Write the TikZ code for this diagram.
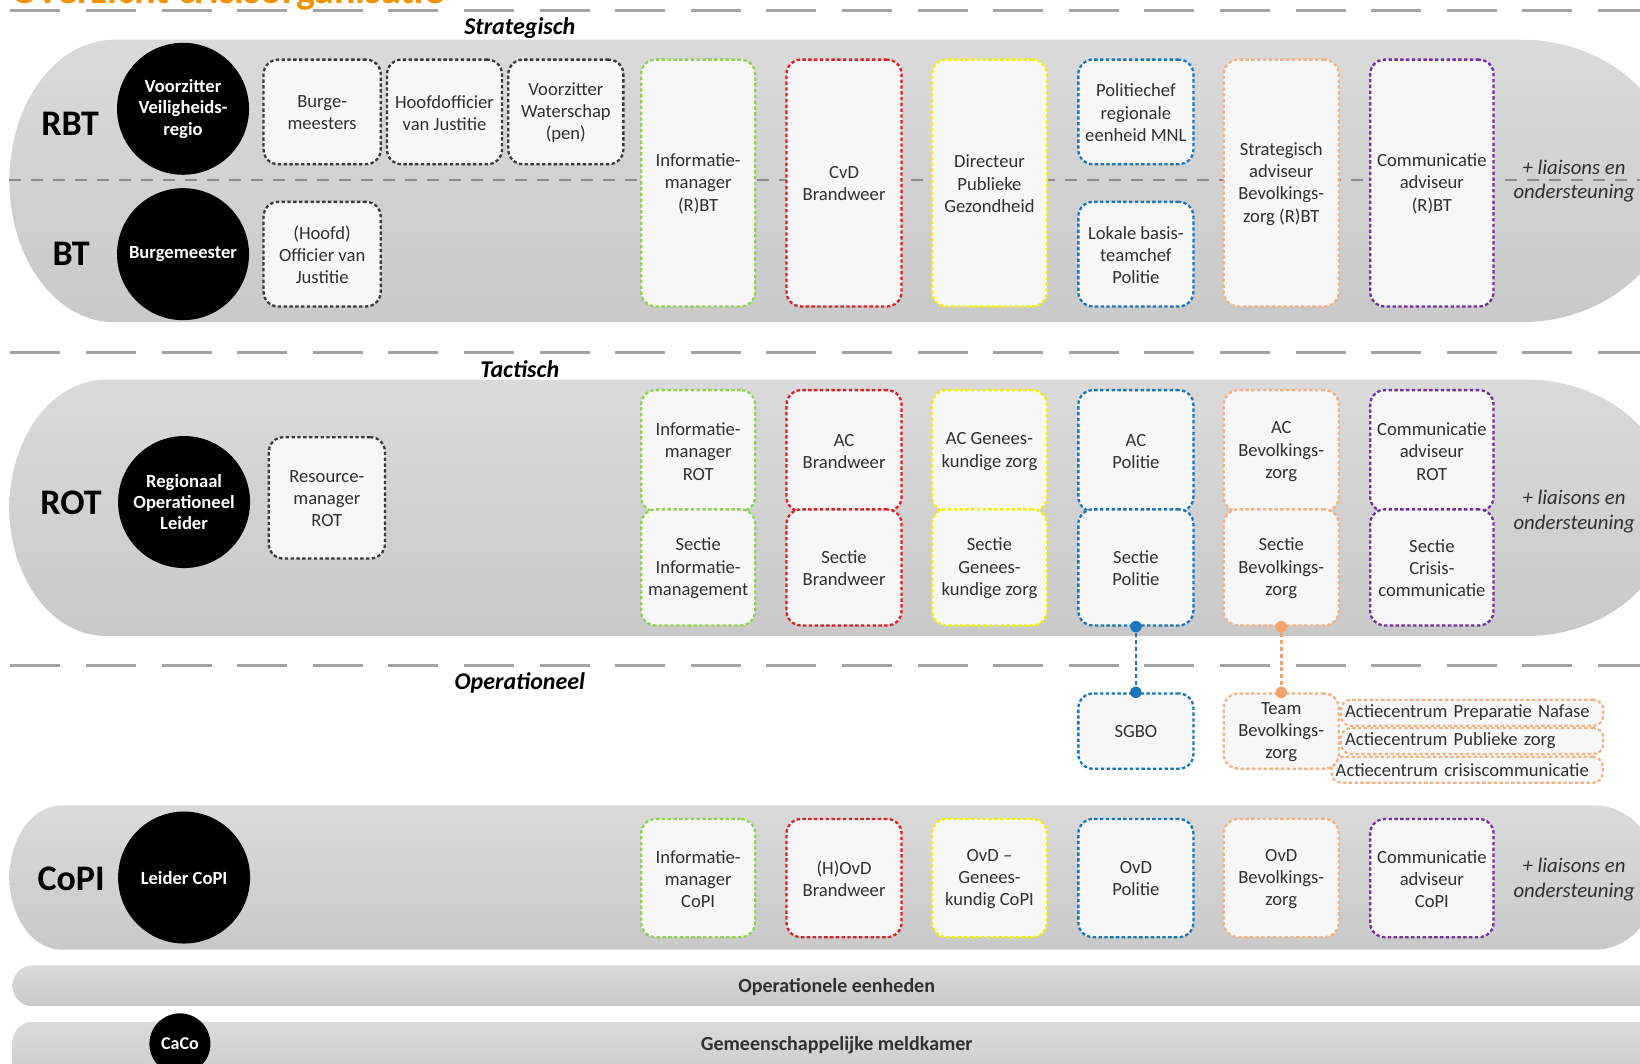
\documentclass[tikz,border=0pt]{standalone}
\usepackage{fontspec}
\setmainfont{Carlito}
\usetikzlibrary{fit}
\definecolor{bandtop}{HTML}{DADADA}
\definecolor{bandbot}{HTML}{C9C9C9}
\definecolor{sepgray}{HTML}{A3A3A3}
\definecolor{midgray}{HTML}{8A8A8A}
\definecolor{boxfill}{HTML}{F7F7F7}
\definecolor{txtgray}{HTML}{303030}
\definecolor{cgreen}{HTML}{92D050}
\definecolor{cred}{HTML}{DF1F26}
\definecolor{cyellow}{HTML}{F2F200}
\definecolor{cblue}{HTML}{1C75BC}
\definecolor{corange}{HTML}{F4B183}
\definecolor{cdot}{HTML}{F2A46A}
\definecolor{cpurple}{HTML}{7030A0}
\definecolor{cdark}{HTML}{3A3A3A}
\definecolor{titleorange}{HTML}{F39200}
\newcommand\boxfont{\fontsize{9.3}{11.1}\selectfont}
\newcommand\crisisband[6]{%
  \pgfmathsetmacro\bandry{(#2-#1)/2}%
  \path[bandfill] (#3+#4,#1) -- (#5,#1)
    arc[start angle=-90,end angle=90,x radius=#6,y radius=\bandry]
    -- (#3+#4,#2)
    arc[start angle=90,end angle=270,x radius=#4,y radius=\bandry] -- cycle;}
\newcommand\bx[7]{\node[rbox=#2, fit={(#3,#4)(#5,#6)}] (#1) {};
  \node[boxtext] (#1t) at ([yshift=-0.4pt]#1.center) {#7};}
\begin{document}
\begin{tikzpicture}[x=0.52296pt,y=-0.52296pt,
  bandfill/.style={top color=bandtop, bottom color=bandbot, draw=none},
  sepline/.style={draw=sepgray, line width=1.4pt, dash pattern=on 25pt off 12.8pt},
  midline/.style={draw=midgray, line width=0.9pt, dash pattern=on 6pt off 5pt},
  rbox/.style={draw=#1, rounded corners=7.3pt, fill=boxfill, line width=1.15pt,
    dash pattern=on 1.7pt off 1.2pt, inner sep=0pt},
  boxtext/.style={align=center, font=\boxfont, text=txtgray, inner sep=0pt},
  acbox/.style={draw=corange, rounded corners=5pt, fill=boxfill, line width=1.1pt,
    dash pattern=on 1.7pt off 1.2pt, inner ysep=0pt, inner xsep=2.1pt, align=left,
    font=\boxfont, text=txtgray, anchor=west, minimum height=13pt},
  blackcirc/.style={circle, fill=black, text=white, minimum size=66pt, inner sep=0pt,
    align=center, font=\fontsize{9.3}{10.7}\selectfont\bfseries},
  lvl/.style={font=\fontsize{18}{20}\selectfont\bfseries, text=black, inner sep=0pt},
  lvltitle/.style={font=\fontsize{12}{14}\selectfont\bfseries\itshape, text=black},
  liaison/.style={font=\fontsize{10.4}{12.2}\selectfont\itshape, align=center, text=txtgray},
  conn/.style={line width=1.3pt, dash pattern=on 2pt off 1.4pt},
  bartext/.style={font=\fontsize{10}{12}\selectfont\bfseries, text=txtgray}
]
\useasboundingbox (0,0) rectangle (1568,1017);
\clip (0,0) rectangle (1568,1017);

% bands
\crisisband{38}{308}{9}{100}{1455}{150}
\crisisband{363}{608}{9}{92}{1460}{140}
\crisisband{770}{908}{9}{50}{1525}{60}
\path[bandfill, rounded corners=10pt] (12,923) rectangle (1620,962);
\path[bandfill, rounded corners=10pt] (12,977) rectangle (1620,1045);

% title (cut off at the top, as in the original)
\node[anchor=base west, font=\fontsize{20}{22}\selectfont\bfseries, text=titleorange, inner sep=0pt]
  (title) at (11,3.5) {Overzicht crisisorganisatie};

% separators
\draw[sepline] (10,10) -- (1568,10);
\draw[sepline] (10,337) -- (1568,337);
\draw[sepline] (10,636) -- (1568,636);
\draw[midline] (9,172) -- (1568,172);

% level titles
\node[lvltitle] (strat) at (497,27) {Strategisch};
\node[lvltitle] (tact) at (497,353) {Tactisch};
\node[lvltitle] (oper) at (497,653) {Operationeel};

% level labels
\node[lvl] (lrbt) at (67,118) {RBT};
\node[lvl] (lbt) at (68,243) {BT};
\node[lvl] (lrot) at (68,481) {ROT};
\node[lvl] (lcopi) at (68,840) {CoPI};

% black circles
\node[blackcirc] (vvr) at (175,104) {Voorzitter\\Veiligheids-\\regio};
\node[blackcirc] (bgm) at (175,243) {Burgemeester};
\node[blackcirc] (rol) at (176,480) {Regionaal\\Operationeel\\Leider};
\node[blackcirc] (lcp) at (176,839) {Leider CoPI};
\node[blackcirc, minimum size=30.5pt, font=\fontsize{9}{10}\selectfont\bfseries] (caco) at (172,998) {CaCo};

% RBT / BT boxes
\bx{burg}{cdark}{252}{57}{364}{157}{Burge-\\meesters}
\bx{hovj}{cdark}{370}{57}{480}{157}{Hoofdofficier\\van Justitie}
\bx{vws}{cdark}{486}{57}{596}{157}{Voorzitter\\Waterschap\\(pen)}
\bx{ovj}{cdark}{252}{193}{364}{293}{(Hoofd)\\Officier van\\Justitie}
\bx{imrbt}{cgreen}{613}{57}{722}{293}{Informatie-\\manager\\(R)BT}
\bx{cvd}{cred}{752}{57}{862}{293}{CvD\\Brandweer}
\bx{dpg}{cyellow}{891}{57}{1001}{293}{Directeur\\Publieke\\Gezondheid}
\bx{pchef}{cblue}{1031}{57}{1141}{157}{Politiechef\\regionale\\eenheid MNL}
\bx{lbtc}{cblue}{1031}{193}{1141}{293}{Lokale basis-\\teamchef\\Politie}
\bx{sabz}{corange}{1170}{57}{1280}{293}{Strategisch\\adviseur\\Bevolkings-\\zorg (R)BT}
\bx{carbt}{cpurple}{1310}{57}{1428}{293}{Communicatie\\adviseur\\(R)BT}
\node[liaison] (lia1) at (1505,173) {+ liaisons en\\ondersteuning};

% ROT boxes
\bx{resm}{cdark}{257}{418}{368}{534}{Resource-\\manager\\ROT}
\bx{imrot}{cgreen}{613}{373}{722}{489}{Informatie-\\manager\\ROT}
\bx{acbw}{cred}{752}{373}{862}{489}{AC\\Brandweer}
\bx{acgz}{cyellow}{891}{373}{1001}{489}{AC Genees-\\kundige zorg}
\bx{acpol}{cblue}{1031}{373}{1141}{489}{AC\\Politie}
\bx{acbz}{corange}{1170}{373}{1280}{489}{AC\\Bevolkings-\\zorg}
\bx{carot}{cpurple}{1310}{373}{1428}{489}{Communicatie\\adviseur\\ROT}
\bx{sim}{cgreen}{613}{487}{722}{598}{Sectie\\Informatie-\\management}
\bx{sbw}{cred}{752}{487}{862}{598}{Sectie\\Brandweer}
\bx{sgz}{cyellow}{891}{487}{1001}{598}{Sectie\\Genees-\\kundige zorg}
\bx{spol}{cblue}{1031}{487}{1141}{598}{Sectie\\Politie}
\bx{sbz}{corange}{1170}{487}{1280}{598}{Sectie\\Bevolkings-\\zorg}
\bx{scc}{cpurple}{1310}{487}{1428}{598}{Sectie\\Crisis-\\communicatie}
\node[liaison] (lia2) at (1505,489) {+ liaisons en\\ondersteuning};

% operational
\node[acbox, text width=127pt] (ac1) at (1281,681.5) {Actiecentrum Preparatie Nafase};
\node[acbox, text width=127pt] (ac2) at (1281,708.5) {Actiecentrum Publieke zorg};
\node[acbox, text width=131.5pt] (ac3) at (1272,736) {Actiecentrum crisiscommunicatie};
\bx{sgbo}{cblue}{1031}{663}{1141}{735}{SGBO}
\bx{tbz}{corange}{1170}{663}{1280}{735}{Team\\Bevolkings-\\zorg}

\draw[conn, draw=cblue] (spol.south) -- (sgbo.north);
\fill[cblue] (spol.south) circle[radius=5.5];
\fill[cblue] (sgbo.north) circle[radius=5.5];
\draw[conn, draw=cdot] (sbz.south) -- (tbz.north);
\fill[cdot] (sbz.south) circle[radius=5.5];
\fill[cdot] (tbz.north) circle[radius=5.5];

% CoPI boxes
\bx{imcopi}{cgreen}{613}{783}{722}{896}{Informatie-\\manager\\CoPI}
\bx{hovd}{cred}{752}{783}{862}{896}{(H)OvD\\Brandweer}
\bx{ovdgz}{cyellow}{891}{783}{1001}{896}{OvD --\\Genees-\\kundig CoPI}
\bx{ovdpol}{cblue}{1031}{783}{1141}{896}{OvD\\Politie}
\bx{ovdbz}{corange}{1170}{783}{1280}{896}{OvD\\Bevolkings-\\zorg}
\bx{cacopi}{cpurple}{1310}{783}{1428}{896}{Communicatie\\adviseur\\CoPI}
\node[liaison] (lia3) at (1505,841) {+ liaisons en\\ondersteuning};

% bottom bars
\node[bartext] (oe) at (800,944) {Operationele eenheden};
\node[bartext] (gmk) at (800,999) {Gemeenschappelijke meldkamer};
\end{tikzpicture}
\end{document}
